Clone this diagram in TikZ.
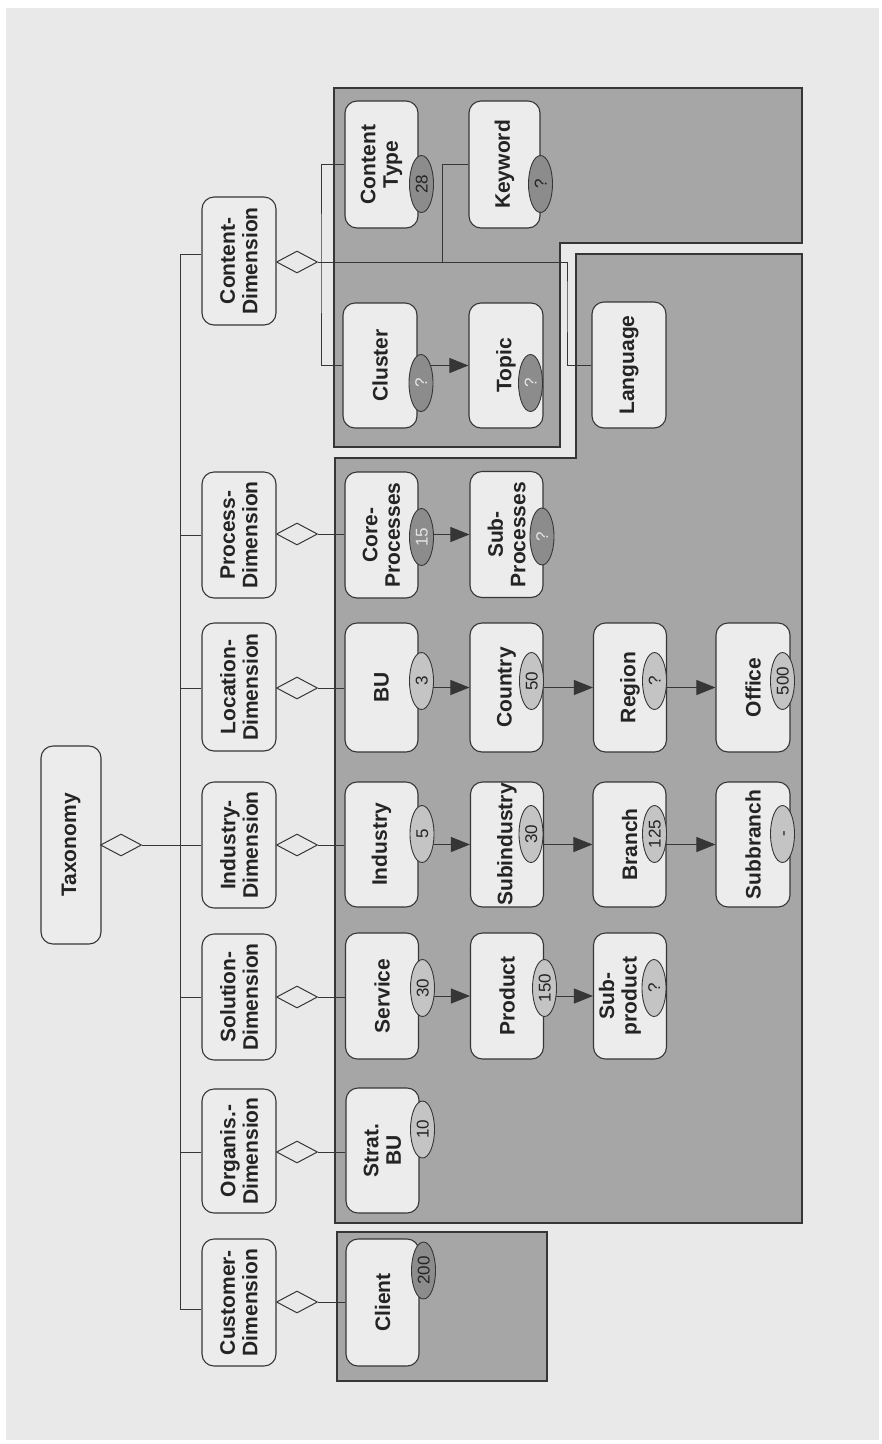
\documentclass[tikz,border=0pt]{standalone}
\usepackage{fontspec}
\setmainfont{Liberation Sans}
\usetikzlibrary{shapes.geometric,arrows.meta}
\pgfdeclarelayer{panel}
\pgfdeclarelayer{lines}
\pgfsetlayers{panel,lines,main}
\definecolor{paper}{HTML}{E9E9E9}
\definecolor{panelgray}{HTML}{A6A6A6}
\definecolor{boxfill}{HTML}{ECECEC}
\definecolor{edge}{HTML}{363636}
\definecolor{badgelight}{HTML}{C4C4C4}
\definecolor{badgedark}{HTML}{8C8C8C}
\definecolor{ink}{HTML}{242424}
\definecolor{lightink}{HTML}{E4E4E4}
\begin{document}
\begin{tikzpicture}[x=1pt,y=-1pt,
 box/.style={draw=edge, line width=1.1pt, fill=boxfill, rounded corners=12pt, rotate=90, inner sep=0pt, align=center, font=\bfseries\fontsize{21}{22.5}\selectfont, text=ink, minimum width=126pt, minimum height=74pt},
 child/.style={box, minimum height=73pt},
 boxtext/.style={rotate=90, inner sep=0pt, align=center, font=\bfseries\fontsize{21}{22.5}\selectfont, text=ink},
 dia/.style={diamond, draw=edge, line width=1pt, fill=paper, minimum width=41pt, minimum height=22pt, inner sep=0pt},
 badge/.style={ellipse, draw=edge, line width=0.9pt, rotate=90, minimum width=57pt, minimum height=24pt, inner sep=0pt, text height=12pt, text depth=0pt, font=\fontsize{17}{17}\selectfont},
 lb/.style={badge, fill=badgelight, text=ink},
 db/.style={badge, fill=badgedark, text=ink},
 dbw/.style={badge, fill=badgedark, text=lightink},
 conn/.style={draw=edge, line width=0.9pt},
 arr/.style={conn, -{Triangle[length=19pt,width=15pt]}},
 panelshape/.style={fill=panelgray, draw=edge, line width=1.2pt}
]
\useasboundingbox (0,0) rectangle (882,1444);

\begin{pgfonlayer}{panel}
\fill[white] (0,0) rectangle (882,1444);
\fill[paper] (6,8) rectangle (879,1440);
\draw[panelshape] (334,88) -- (802,88) -- (802,243) -- (560,243) -- (560,447) -- (334,447) -- cycle;
\draw[panelshape] (335,458) -- (576,458) -- (576,254) -- (802,254) -- (802,1223) -- (335,1223) -- cycle;
\draw[panelshape] (337,1232) rectangle (547,1381);
\end{pgfonlayer}

% root
\node[box, minimum width=198pt, minimum height=60pt] (tax) at (71,845) {Taxonomy};
\node[dia] (dT) at (121,845) {};

% dimensions
\node[box, minimum width=128pt] (Cdim) at (239,261) {Content-\\Dimension};
\node[box] (Pdim) at (239,535) {Process-\\Dimension};
\node[box, minimum width=128pt] (Ldim) at (239,687) {Location-\\Dimension};
\node[box] (Idim) at (239,845) {Industry-\\Dimension};
\node[box] (Sdim) at (239,997) {Solution-\\Dimension};
\node[box, minimum width=124pt] (Odim) at (239,1151) {Organis.-\\Dimension};
\node[box, minimum width=127pt] (Udim) at (239,1302.5) {Customer-\\Dimension};

\node[dia] (dC) at (297,262) {};
\node[dia] (dP) at (297,534) {};
\node[dia] (dL) at (297,688) {};
\node[dia] (dI) at (297,845) {};
\node[dia] (dS) at (297,997) {};
\node[dia] (dO) at (297,1152) {};
\node[dia] (dU) at (297,1302) {};

% children
\node[child, minimum width=127pt] (CT) at (381.5,164.5) {Content\\Type};
\node[child, minimum width=127pt, minimum height=71pt] (Key) at (504.5,164.5) {Keyword};
\node[child, minimum width=125pt, minimum height=74pt] (Clu) at (380,365.5) {Cluster};
\node[child, minimum width=125pt, minimum height=74pt] (Top) at (506,365.5) {Topic};
\node[child, minimum width=126pt, minimum height=74pt] (Lang) at (629,365) {Language};

\node[child] (Core) at (381.5,535) {Core-\\Processes};
\node[child] (SubP) at (506.5,534.5) {Sub-\\Processes};

\node[child, minimum width=129pt] (BU) at (381.5,687.5) {BU};
\node[child, minimum width=129pt] (Cty) at (506.5,687.5) {Country};
\node[child, minimum width=129pt] (Reg) at (630,687.5) {Region};
\node[child, minimum width=129pt, minimum height=74pt] (Off) at (753,687.5) {Office};

\node[child, minimum width=125pt] (Ind) at (381.5,844.5) {Industry};
\node[child, minimum width=125pt] (SubI) at (507,844.5) {Subindustry};
\node[child, minimum width=125pt] (Br) at (629.5,844.5) {Branch};
\node[child, minimum width=125pt, minimum height=74pt] (SubB) at (753,844.5) {Subbranch};

\node[child] (Serv) at (382,996) {Service};
\node[child] (Prod) at (507,996) {Product};
\node[child] (SubPr) at (630,996) {};
\node[boxtext] (SubPrT) at (620,996) {Sub-\\product};

\node[child, minimum width=125pt] (SBU) at (382.5,1150.5) {Strat.\\BU};
\node[child, minimum width=127pt] (Cli) at (382.5,1302.5) {Client};

% badges
\node[db] (bCT) at (421.5,184) {28};
\node[db] (bKey) at (540.5,184) {?};
\node[dbw] (bClu) at (421,383) {?};
\node[dbw] (bTop) at (530.5,383) {?};
\node[dbw] (bCore) at (421.5,537) {15};
\node[dbw] (bSubP) at (542,536.5) {?};
\node[lb] (bBU) at (421.5,681) {3};
\node[lb] (bCty) at (531.5,681) {50};
\node[lb] (bReg) at (654.5,681) {?};
\node[lb] (bOff) at (782.5,681) {500};
\node[lb] (bInd) at (422,834) {5};
\node[lb] (bSubI) at (531,834) {30};
\node[lb] (bBr) at (654.5,834) {125};
\node[lb] (bSubB) at (782.5,834) {-};
\node[lb] (bServ) at (422.5,988) {30};
\node[lb] (bProd) at (544.5,988) {150};
\node[lb] (bSubPr) at (654,988) {?};
\node[lb] (bSBU) at (422.5,1129.5) {10};
\node[db] (bCli) at (423.5,1270.5) {200};

% connectors
\coordinate (busT) at (180,254);
\coordinate (busB) at (180,1309);
\coordinate (jC) at (321,262);
\coordinate (jK) at (442,262);
\coordinate (jL) at (567,300);

\begin{pgfonlayer}{lines}
\draw[conn] (busT) -- (busB);
\draw[conn] (busT) -- (Cdim.north |- busT);
\draw[conn] (busT |- Pdim) -- (Pdim.north);
\draw[conn] (busT |- dL) -- (Ldim.north |- dL);
\draw[conn] (dT.east) -- (Idim.north);
\draw[conn] (busT |- Sdim) -- (Sdim.north);
\draw[conn] (busT |- dO) -- (Odim.north |- dO);
\draw[conn] (busB) -- (Udim.north |- busB);

\draw[conn] (dC.east) -| (jL) |- (Lang.north);
\draw[conn] (CT.north) -| (jC) |- (Clu.north);
\draw[conn] (jK) |- (Key.north);
\draw[conn] (dP.east) -- (Core.north |- dP.east);
\draw[conn] (dL.east) -- (BU.north |- dL.east);
\draw[conn] (dI.east) -- (Ind.north |- dI.east);
\draw[conn] (dS.east) -- (Serv.north |- dS.east);
\draw[conn] (dO.east) -- (SBU.north |- dO.east);
\draw[conn] (dU.east) -- (Cli.north |- dU.east);

\draw[arr] (Clu.center) -- (Top.north);
\draw[arr] (Core.center |- SubP.north) -- (SubP.north);
\draw[arr] (BU.center) -- (Cty.north);
\draw[arr] (Cty.center) -- (Reg.north);
\draw[arr] (Reg.center) -- (Off.north);
\draw[arr] (Ind.center) -- (SubI.north);
\draw[arr] (SubI.center) -- (Br.north);
\draw[arr] (Br.center) -- (SubB.north);
\draw[arr] (Serv.center) -- (Prod.north);
\draw[arr] (Prod.center) -- (SubPr.north);
\end{pgfonlayer}
\end{tikzpicture}
\end{document}
